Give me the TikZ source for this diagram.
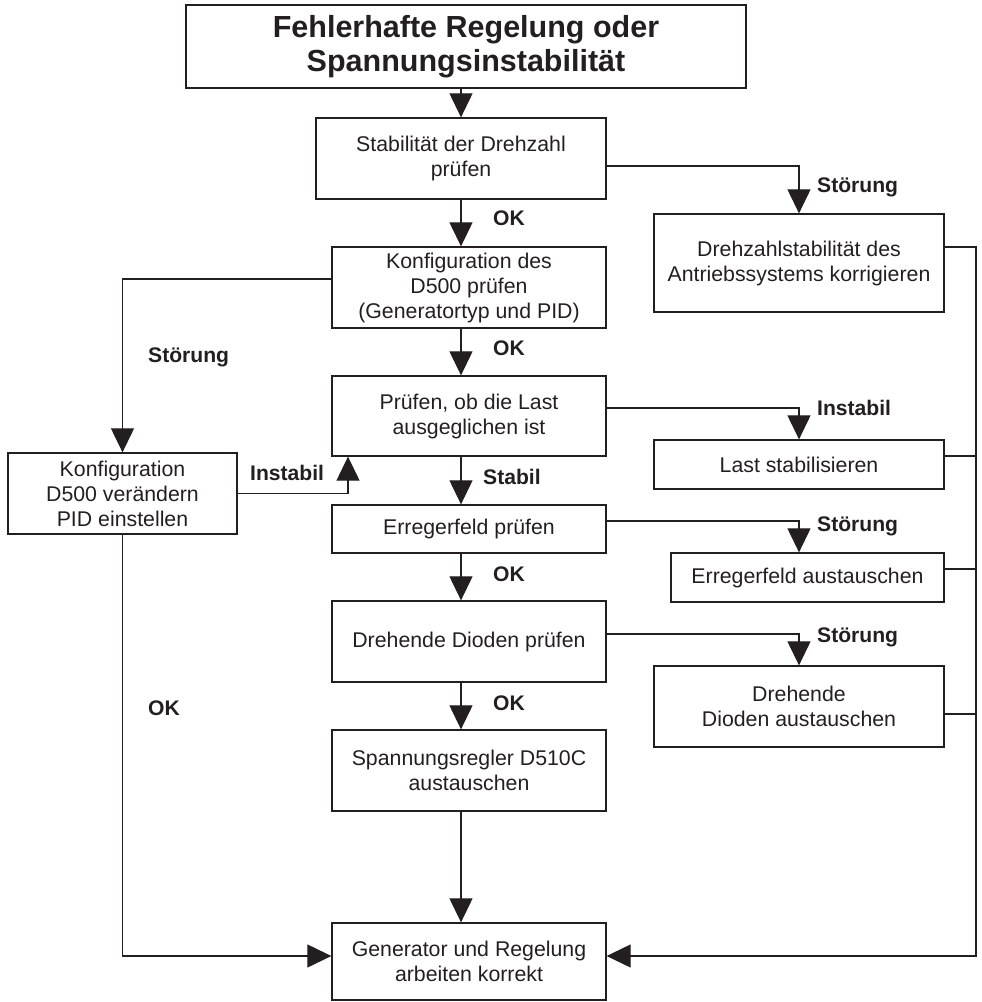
\documentclass[tikz,border=0pt]{standalone}
\usepackage{fontspec}
\setmainfont{Liberation Sans}
\usetikzlibrary{arrows.meta,positioning,calc}
\definecolor{ink}{RGB}{35,31,32}

\tikzset{
  box/.style={draw=ink, line width=1.3pt, align=center, inner sep=0pt, text=ink,
    font=\fontsize{21.3}{25}\selectfont},
  headbox/.style={box, line width=2.4pt, font=\bfseries\fontsize{30.5}{34}\selectfont},
  arr/.style={draw=ink, line width=1.1pt, -{Triangle[length=24pt,width=23pt]}},
  line/.style={draw=ink, line width=1.1pt},
  lbl/.style={anchor=west, inner sep=0pt, text=ink, font=\bfseries\fontsize{21.1}{25}\selectfont},
}

\begin{document}
\begin{tikzpicture}[x=1pt,y=-1pt]
  \useasboundingbox (0,0) rectangle (982,1002);
  \node[headbox, minimum width=560pt, minimum height=83pt] (titel) at (466,46.5) {Fehlerhafte Regelung oder\\Spannungsinstabilität};
  \node[box, minimum width=290pt, minimum height=81pt] (pruef) at (461,158.5) {Stabilität der Drehzahl\\prüfen};
  \node[box, minimum width=274pt, minimum height=81pt] (konfig) at (469,287.5) {Konfiguration des\\D500 prüfen\\(Generatortyp und PID)};
  \node[box, minimum width=274pt, minimum height=80pt] (last) at (469,416) {Prüfen, ob die Last\\ausgeglichen ist};
  \node[box, minimum width=274pt, minimum height=48pt] (erreger) at (469,529) {Erregerfeld prüfen};
  \node[box, minimum width=274pt, minimum height=81pt] (dioden) at (469,641.5) {Drehende Dioden prüfen};
  \node[box, minimum width=274pt, minimum height=81pt] (regler) at (469,770.5) {Spannungsregler D510C\\austauschen};
  \node[box, minimum width=274pt, minimum height=77pt] (gen) at (469,961.5) {Generator und Regelung\\arbeiten korrekt};
  % rechte Spalte
  \node[box, minimum width=290pt, minimum height=98pt] (drehkorr) at (799,263) {Drehzahlstabilität des\\Antriebssystems korrigieren};
  \node[box, minimum width=290pt, minimum height=49pt] (laststab) at (799,464.5) {Last stabilisieren};
  \node[box, minimum width=273pt, minimum height=49pt] (errtausch) at (807.5,577.5) {Erregerfeld austauschen};
  \node[box, minimum width=290pt, minimum height=81pt] (diotausch) at (799,706.5) {Drehende\\Dioden austauschen};
  % linke Spalte
  \node[box, minimum width=229pt, minimum height=81pt] (aendern) at (122.5,493.5) {Konfiguration\\D500 verändern\\PID einstellen};

  \coordinate (rechts) at (976,956);
  \coordinate (links) at (122.5,956);

  \draw[arr] (titel.south -| pruef.south) -- (pruef.north);
  \draw[arr] (pruef.south) -- (pruef.south |- konfig.north);
  \draw[arr] (konfig.south -| pruef.south) -- (pruef.south |- last.north);
  \draw[arr] (last.south -| pruef.south) -- (pruef.south |- erreger.north);
  \draw[arr] (erreger.south -| pruef.south) -- (pruef.south |- dioden.north);
  \draw[arr] (dioden.south -| pruef.south) -- (pruef.south |- regler.north);
  \draw[arr] (regler.south -| pruef.south) -- (pruef.south |- gen.north);

  \draw[arr] ([yshift=-7.5pt]pruef.east) -| (drehkorr.north);
  \draw[arr] ([yshift=8pt]last.east) -| (laststab.north);
  \draw[arr] ([yshift=8pt]erreger.east) -| (errtausch.north -| drehkorr.north);
  \draw[arr] ([yshift=7.5pt]dioden.east) -| (diotausch.north);

  \draw[arr] ([yshift=16pt]drehkorr.east) -| (rechts) -- (rechts -| gen.east); % Rückführung rechts
  \foreach \n/\s in {laststab/8.5, errtausch/8.5, diotausch/-7.5}
    \draw[line] ([yshift=\s pt]\n.east) -- ([yshift=\s pt]\n.east -| rechts);

  \draw[arr] ([yshift=8.5pt]konfig.west) -| (aendern.north);
  \draw[arr] (aendern.east) -| ([xshift=-121pt]last.south);
  \draw[arr] (aendern.south) -- (links) -- (links -| gen.west); % Rückführung links

  \node[lbl] (okA) at (493,218) {OK};
  \node[lbl] (okB) at (493,348) {OK};
  \node[lbl] (stabil) at (483,477) {Stabil};
  \node[lbl] (okC) at (493,574) {OK};
  \node[lbl] (okD) at (493,703) {OK};
  \node[lbl] (stoerA) at (817,187) {Störung};
  \node[lbl] (instR) at (817,408) {Instabil};
  \node[lbl] (stoerB) at (817,526) {Störung};
  \node[lbl] (stoerC) at (817,637) {Störung};
  \node[lbl] (stoerL) at (148,357) {Störung};
  \node[lbl] (instL) at (250,473) {Instabil};
  \node[lbl] (okL) at (148,708) {OK};
\end{tikzpicture}
\end{document}
